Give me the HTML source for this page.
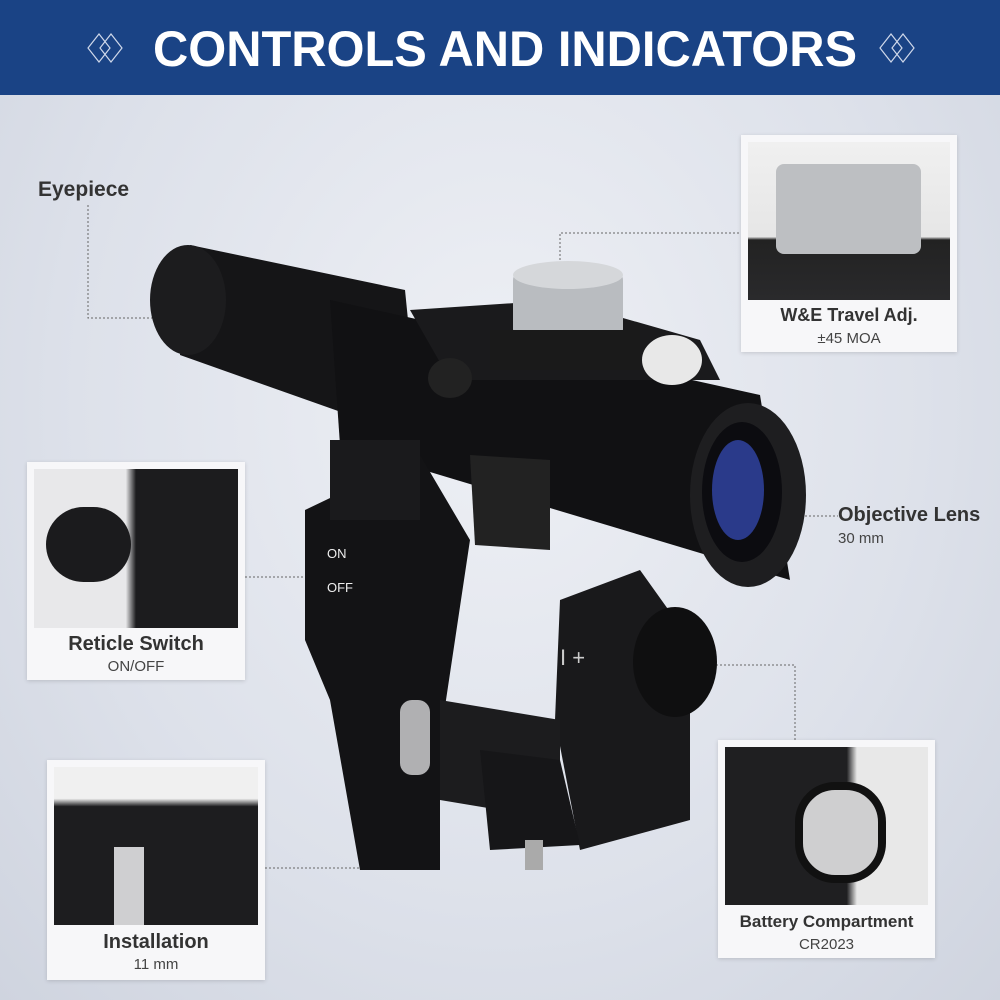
<!DOCTYPE html>
<html><head><meta charset="utf-8"><style>
html,body{margin:0;padding:0}
body{width:1000px;height:1000px;overflow:hidden;position:relative;font-family:"Liberation Sans",sans-serif;background:radial-gradient(ellipse at 50% 40%,#eef0f5 0%,#dde1ea 60%,#cfd4df 100%)}
.card{position:absolute;background:#f7f7f9;box-shadow:0 1px 4px rgba(0,0,0,.15)}
.img{position:absolute;left:7px;top:7px;right:7px;background:#2a2a2c}
.t1{position:absolute;left:0;right:0;text-align:center;font-weight:bold;color:#333;font-size:20px}
.t2{position:absolute;left:0;right:0;text-align:center;color:#444;font-size:15px}
.lbl{position:absolute;font-weight:bold;color:#333;font-size:21px}
</style></head><body>
<svg width="1000" height="1000" style="position:absolute;left:0;top:0">
<rect x="0" y="0" width="1000" height="95" fill="#1a4385"/>
<g fill="none" stroke="#cfd8ea" stroke-width="1.2">
<path d="M88 48 L99 34 L110 48 L99 62Z M100 48 L111 34 L122 48 L111 62Z"/>
<path d="M880 48 L891 34 L902 48 L891 62Z M892 48 L903 34 L914 48 L903 62Z"/>
</g>
<text x="153" y="66" textLength="704" lengthAdjust="spacingAndGlyphs" font-family="Liberation Sans" font-weight="bold" font-size="50" fill="#fff">CONTROLS AND INDICATORS</text>
<g fill="none" stroke="#666" stroke-width="1" stroke-dasharray="2,2">
<path d="M88 205 V318 H165"/>
<path d="M560 300 V233 H741"/>
<path d="M245 577 H395"/>
<path d="M765 516 H838"/>
<path d="M680 665 H795 V740"/>
<path d="M265 868 H365 V780"/>
</g>
<g>
<polygon points="190,245 405,290 420,440 180,355" fill="#151517"/>
<ellipse cx="188" cy="300" rx="38" ry="55" fill="#1c1c1e"/>
<polygon points="330,300 760,395 790,580 340,445" fill="#111113"/>
<polygon points="410,310 560,300 700,340 720,380 450,380" fill="#1a1a1c"/>
<ellipse cx="748" cy="495" rx="58" ry="92" fill="#1e1e20"/>
<ellipse cx="742" cy="492" rx="40" ry="70" fill="#0c0c10"/>
<ellipse cx="738" cy="490" rx="26" ry="50" fill="#2a3a8a"/>
<ellipse cx="450" cy="378" rx="22" ry="20" fill="#222"/>
<rect x="513" y="272" width="110" height="65" rx="8" fill="#b9bcc0"/>
<ellipse cx="568" cy="275" rx="55" ry="14" fill="#d5d7da"/>
<rect x="490" y="330" width="150" height="40" fill="#1a1a1a"/>
<ellipse cx="672" cy="360" rx="30" ry="25" fill="#e8e8e8"/>
<polygon points="305,510 420,455 470,540 440,740 440,870 360,870 330,700 305,640" fill="#131315"/>
<polygon points="330,440 420,440 420,520 330,520" fill="#1a1a1c"/>
<polygon points="470,455 550,460 550,550 475,545" fill="#222"/>
<polygon points="560,600 640,570 690,640 690,820 580,850 555,720" fill="#19191b"/>
<ellipse cx="675" cy="662" rx="42" ry="55" fill="#0f0f10"/>
<polygon points="440,700 560,720 560,820 440,800" fill="#1c1c1e"/>
<polygon points="480,750 560,760 580,845 490,850" fill="#161618"/>
<rect x="400" y="700" width="30" height="75" rx="12" fill="#b0b0b2"/>
<rect x="525" y="840" width="18" height="30" fill="#aaa"/>
<text x="327" y="558" font-size="13" fill="#eee" font-family="Liberation Sans">ON</text>
<text x="327" y="592" font-size="13" fill="#eee" font-family="Liberation Sans">OFF</text>
<text x="560" y="665" font-size="22" fill="#ccc" font-family="Liberation Sans">I +</text>
</g>
</svg>
<div class="lbl" style="left:38px;top:178px">Eyepiece</div>
<div class="lbl" style="left:838px;top:504px;font-size:20px">Objective Lens</div>
<div style="position:absolute;left:838px;top:530px;font-size:15px;color:#444">30 mm</div>

<div class="card" style="left:741px;top:135px;width:216px;height:217px">
<div class="img" style="height:158px;background:linear-gradient(#f0f0f0 0,#e6e6e6 60%,#222 62%,#2a2a2c 100%)">
<div style="position:absolute;left:28px;top:22px;width:145px;height:90px;background:#bdbfc2;border-radius:8px"></div>
</div>
<div class="t1" style="top:170px;font-size:18px">W&amp;E Travel Adj.</div>
<div class="t2" style="top:195px">±45 MOA</div>
</div>

<div class="card" style="left:27px;top:462px;width:218px;height:218px">
<div class="img" style="height:159px;background:linear-gradient(90deg,#e8e8ea 0,#e8e8ea 45%,#1c1c1e 50%,#1c1c1e 100%)">
<div style="position:absolute;left:12px;top:38px;width:85px;height:75px;background:#1b1b1d;border-radius:40px"></div>
</div>
<div class="t1" style="top:171px">Reticle Switch</div>
<div class="t2" style="top:196px">ON/OFF</div>
</div>

<div class="card" style="left:47px;top:760px;width:218px;height:220px">
<div class="img" style="height:158px;background:linear-gradient(#f0f0f0 0,#f0f0f0 20%,#1d1d1f 25%,#1d1d1f 100%)">
<div style="position:absolute;left:60px;top:80px;width:30px;height:78px;background:#cfcfd1"></div>
</div>
<div class="t1" style="top:171px">Installation</div>
<div class="t2" style="top:196px">11 mm</div>
</div>

<div class="card" style="left:718px;top:740px;width:217px;height:218px">
<div class="img" style="height:158px;background:linear-gradient(90deg,#1f1f21 0,#1f1f21 60%,#e8e8e8 65%)">
<div style="position:absolute;left:70px;top:35px;width:75px;height:85px;background:#cfcfd0;border-radius:40px;border:8px solid #111"></div>
</div>
<div class="t1" style="top:172px;font-size:17px">Battery Compartment</div>
<div class="t2" style="top:196px">CR2023</div>
</div>
</body></html>
